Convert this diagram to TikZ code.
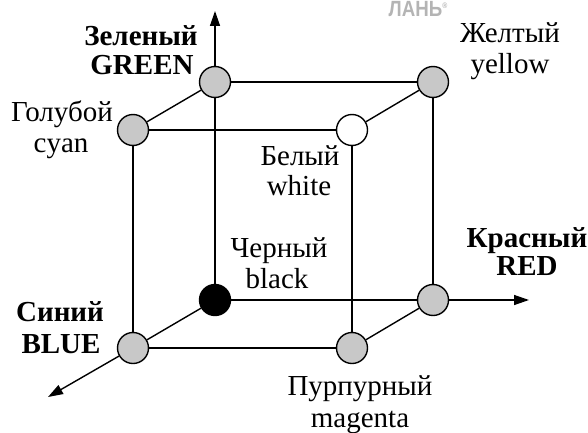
\documentclass[tikz,border=0pt]{standalone}
\usepackage{fontspec}
\setmainfont{Liberation Serif}
\newfontfamily\wmfont{Liberation Sans}
\usetikzlibrary{arrows.meta}
\definecolor{vgray}{HTML}{C8C8C8}
\definecolor{wmgray}{HTML}{B4B4B4}
\begin{document}
\begin{tikzpicture}[x=1pt,y=1pt,
  vertex/.style={circle,draw=black,line width=1.4pt,minimum size=31pt,inner sep=0pt,fill=vgray},
  edge/.style={line width=1.4pt},
  axis/.style={line width=1.4pt,-{Triangle[length=15pt,width=10pt]}},
  lbl/.style={anchor=base,inner sep=0pt,font=\fontsize{29}{31}\selectfont},
  blbl/.style={anchor=base,inner sep=0pt,font=\fontsize{29}{31}\selectfont\bfseries}]
\useasboundingbox (0,0) rectangle (588,432);
% axis ends
\coordinate (gtip) at (215,421);
\coordinate (rtip) at (529,132);
\coordinate (btip) at (48,35);
% vertices
\node[vertex] (G) at (215,350) {};
\node[vertex] (Y) at (433,350) {};
\node[vertex] (C) at (133,302) {};
\node[vertex,fill=white] (W) at (352,302) {};
\node[vertex,fill=black] (K) at (215,132) {};
\node[vertex] (R) at (433,132) {};
\node[vertex] (B) at (133,84) {};
\node[vertex] (M) at (352,84) {};
% edges
\draw[edge] (G) -- (Y);
\draw[edge] (G) -- (C);
\draw[edge] (C) -- (W);
\draw[edge] (W) -- (Y);
\draw[edge] (C) -- (B);
\draw[edge] (W) -- (M);
\draw[edge] (Y) -- (R);
\draw[edge] (B) -- (M);
\draw[edge] (M) -- (R);
\draw[edge] (K) -- (G);
\draw[edge] (K) -- (R);
\draw[edge] (K) -- (B);
% axes
\draw[axis] (G) -- (gtip);
\draw[axis] (R) -- (rtip);
\draw[axis] (B) -- (btip);
% labels
\node[blbl] (lg1) at (141,386) {Зеленый};
\node[blbl] (lg2) at (142,357) {GREEN};
\node[lbl] (ly1) at (510,389) {Желтый};
\node[lbl] (ly2) at (510,359) {yellow};
\node[lbl] (lc1) at (62,311) {Голубой};
\node[lbl] (lc2) at (61,280) {cyan};
\node[lbl] (lw1) at (300,267) {Белый};
\node[lbl] (lw2) at (299,237) {white};
\node[lbl] (lk1) at (279,175) {Черный};
\node[lbl] (lk2) at (277,144) {black};
\node[blbl] (lr1) at (527,185) {Красный};
\node[blbl] (lr2) at (527,157) {RED};
\node[blbl] (lb1) at (60,111) {Синий};
\node[blbl] (lb2) at (61,79) {BLUE};
\node[lbl] (lm1) at (360,37) {Пурпурный};
\node[lbl] (lm2) at (360,5) {magenta};
% watermark
\node[anchor=base,inner sep=0pt,xscale=0.85,text=wmgray,font=\wmfont\bfseries\fontsize{22}{22}\selectfont] (wm) at (418,415) {ЛАНЬ\raisebox{8pt}{\fontsize{8}{8}\selectfont®}};
\end{tikzpicture}
\end{document}
